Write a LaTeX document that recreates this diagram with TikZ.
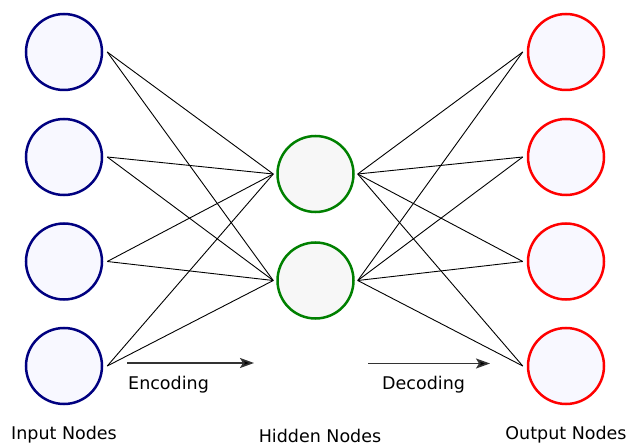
\documentclass[tikz,border=0pt]{standalone}
\usepackage{fontspec}
\setmainfont{DejaVu Sans}
\usetikzlibrary{arrows.meta}
\definecolor{ghost}{HTML}{F8F8FF}
\definecolor{smoke}{HTML}{F7F7F7}
\definecolor{navyblue}{HTML}{000080}
\definecolor{darkgreen}{HTML}{008000}
\definecolor{brightred}{HTML}{FF0000}
\begin{document}
\begin{tikzpicture}[x=1pt,y=-1pt,
  neuron/.style={circle,minimum size=76pt,inner sep=0pt,line width=2.5pt},
  inneuron/.style={neuron,draw=navyblue,fill=ghost},
  hidneuron/.style={neuron,draw=darkgreen,fill=smoke},
  outneuron/.style={neuron,draw=brightred,fill=ghost},
  link/.style={line width=0.9pt,black},
  flow/.style={line width=1.6pt,draw=black!80,-{Stealth[length=14pt,width=10pt,inset=3pt,fill=black]}},
  caption/.style={font=\fontsize{17.5}{20}\selectfont,inner sep=0pt}]
\useasboundingbox (0,0) rectangle (629,446);

% input layer
\node[inneuron] (i1) at (64,52) {};
\node[inneuron] (i2) at (64,157) {};
\node[inneuron] (i3) at (64,261.5) {};
\node[inneuron] (i4) at (64,366) {};

% hidden layer
\node[hidneuron] (h1) at (315.5,174) {};
\node[hidneuron] (h2) at (315.5,280.5) {};

% output layer
\node[outneuron] (o1) at (566,52) {};
\node[outneuron] (o2) at (566,157) {};
\node[outneuron] (o3) at (566,261.5) {};
\node[outneuron] (o4) at (566,366) {};

% fully connected links
\foreach \i in {1,...,4} {
  \foreach \h in {1,2} {
    \draw[link] ([xshift=4pt]i\i.east) -- ([xshift=-3pt]h\h.west);
    \draw[link] ([xshift=3pt]h\h.east) -- ([xshift=-4pt]o\i.west);
  }
}

% direction arrows
\coordinate (encA) at (127,363);
\coordinate (encB) at (254,363);
\coordinate (decA) at (368,363.5);
\coordinate (decB) at (490,363.5);
\draw[flow] (encA) -- (encB);
\draw[flow] (decA) -- (decB);
\node[caption,anchor=west] (enc) at (128,385) {Encoding};
\node[caption,anchor=west] (dec) at (382,385) {Decoding};

% layer captions
\node[caption] (lin) at (64,435) {Input Nodes};
\node[caption] (lhid) at (320,436) {Hidden Nodes};
\node[caption] (lout) at (566,435) {Output Nodes};
\end{tikzpicture}
\end{document}
